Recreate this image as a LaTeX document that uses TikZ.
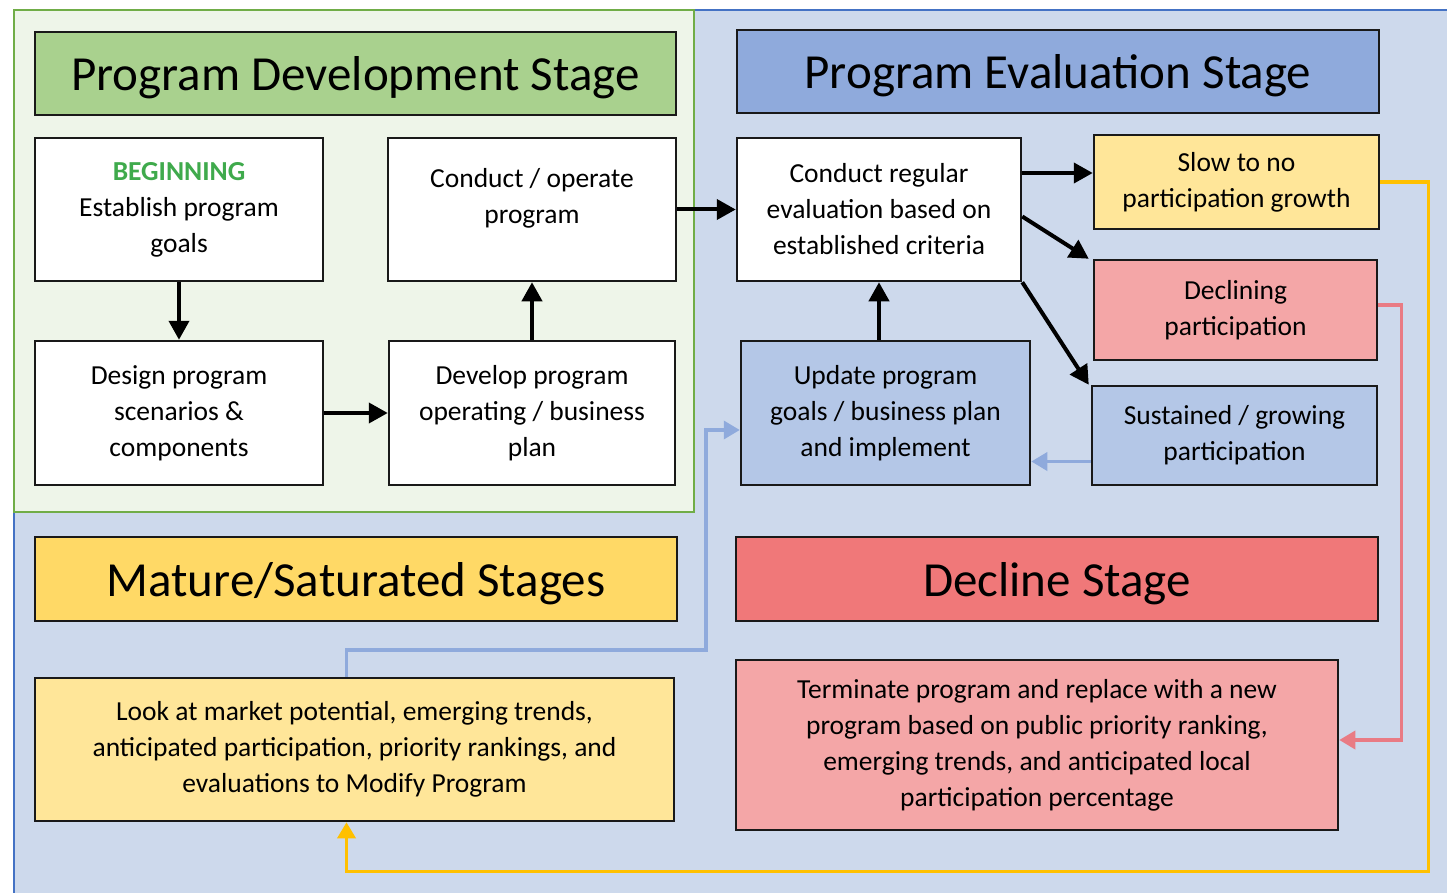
\documentclass[tikz,border=0pt]{standalone}
\usepackage{fontspec}
\setmainfont{Carlito}
\usetikzlibrary{arrows.meta}

\definecolor{bgblue}{HTML}{CDD9EC}
\definecolor{edgeblue}{HTML}{4472C4}
\definecolor{panelgreen}{HTML}{EEF5E9}
\definecolor{edgegreen}{HTML}{70AD47}
\definecolor{hdrgreen}{HTML}{A9D18E}
\definecolor{hdrblue}{HTML}{8FAADC}
\definecolor{boxblue}{HTML}{B4C7E7}
\definecolor{boxyellow}{HTML}{FFE699}
\definecolor{hdryellow}{HTML}{FFD966}
\definecolor{boxpink}{HTML}{F4A6A7}
\definecolor{hdrred}{HTML}{F07879}
\definecolor{startgreen}{HTML}{3FAA4C}
\definecolor{lineblue}{HTML}{8FAADC}
\definecolor{linered}{HTML}{E97B84}
\definecolor{lineorange}{HTML}{FFC000}

\begin{document}
\begin{tikzpicture}
  [x=1pt,y=-1pt,
   every node/.style={rectangle,draw=black!90,line width=2.5pt,align=center,inner sep=0pt,
     font=\fontsize{27.5}{36}\selectfont},
   sz/.style 2 args={minimum width=#1pt,minimum height=#2pt},
   stage/.style={font=\fontsize{49}{56}\selectfont,text depth=0pt},
   arr/.style={-{Triangle[length=19pt,width=20pt]},line width=4pt},
   barr/.style={-{Triangle[length=16pt,width=18pt]},line width=3.5pt,draw=lineblue},
   rarr/.style={-{Triangle[length=16pt,width=18pt]},line width=3.5pt,draw=linered},
   oarr/.style={-{Triangle[length=16pt,width=18pt]},line width=3.5pt,draw=lineorange}]
  \useasboundingbox (0,0) rectangle (1447,893);

  % backgrounds
  \fill[bgblue] (14,10) rectangle (1447,893);
  \draw[edgeblue,line width=2pt] (14,893) -- (14,10) -- (1447,10);
  \filldraw[fill=panelgreen,draw=edgegreen,line width=2.5pt] (14,10) rectangle (694,512);

  % development stage
  \node[fill=hdrgreen,stage,sz={641}{83}] (pds) at (355.5,73.5) {Program Development Stage};
  \node[fill=white,sz={288}{143}] (b1) at (179,209.5)
    {\textcolor{startgreen}{\textbf{BEGINNING}}\\Establish program\\goals};
  \node[fill=white,sz={288}{143},text depth=27pt] (b2) at (532,209.5) {Conduct / operate\\program};
  \node[fill=white,sz={288}{144}] (b3) at (179,413) {Design program\\scenarios \&\\components};
  \node[fill=white,sz={286}{144}] (b4) at (532,413) {Develop program\\operating / business\\plan};

  % evaluation stage
  \node[fill=hdrblue,stage,sz={642}{83}] (pes) at (1058,71.5) {Program Evaluation Stage};
  \node[fill=white,sz={284}{143}] (ev) at (879,209.5)
    {Conduct regular\\evaluation based on\\established criteria};
  \node[fill=boxyellow,sz={285}{94}] (slow) at (1236.5,182) {Slow to no\\participation growth};
  \node[fill=boxpink,sz={283}{100}] (decl) at (1235.5,310) {Declining\\participation};
  \node[fill=boxblue,sz={285}{99}] (sust) at (1234.5,435.5) {Sustained / growing\\participation};
  \node[fill=boxblue,sz={289}{144}] (upd) at (885.5,413)
    {Update program\\goals / business plan\\and implement};

  % mature and decline stages
  \node[fill=hdryellow,stage,sz={642}{84}] (mat) at (356,579) {Mature/Saturated Stages};
  \node[fill=hdrred,stage,sz={642}{84}] (dec) at (1057,579) {Decline Stage};
  \node[fill=boxyellow,sz={639}{143}] (look) at (354.5,749.5)
    {Look at market potential, emerging trends,\\anticipated participation, priority rankings, and\\evaluations to Modify Program};
  \node[fill=boxpink,sz={602}{170}] (term) at (1037,745)
    {Terminate program and replace with a new\\program based on public priority ranking,\\emerging trends, and anticipated local\\participation percentage};

  \foreach \from/\to in {b1/b3,b3/b4,b4/b2,b2/ev}
    \draw[arr] (\from) -- (\to);
  \draw[arr] (ev |- upd.north) -- (ev.south);
  \draw[arr] ([yshift=9pt]slow.west -| ev.east) -- ([yshift=9pt]slow.west);
  \draw[arr] ([yshift=-7pt]ev.east) -- ([xshift=-4pt]decl.north west);
  \draw[arr] (ev.south east) -- ([xshift=-2pt]sust.north west);

  \draw[barr] ([yshift=-26pt]sust.west) -- ([yshift=-26pt]sust.west -| upd.east);
  \draw[barr] ([xshift=-8pt]look.north) -- ++(0,-27)
    -| ([xshift=-34pt,yshift=-17pt]upd.west) -- ([yshift=-17pt]upd.west);
  \draw[rarr] ([yshift=5pt]decl.east) -- ++(23,0) |- ([yshift=5pt]term.east);
  \draw[oarr] (slow.east) -- ++(48,0)
    |- ([xshift=-8pt,yshift=-49pt]look.south) -- ([xshift=-8pt]look.south);

\end{tikzpicture}
\end{document}
